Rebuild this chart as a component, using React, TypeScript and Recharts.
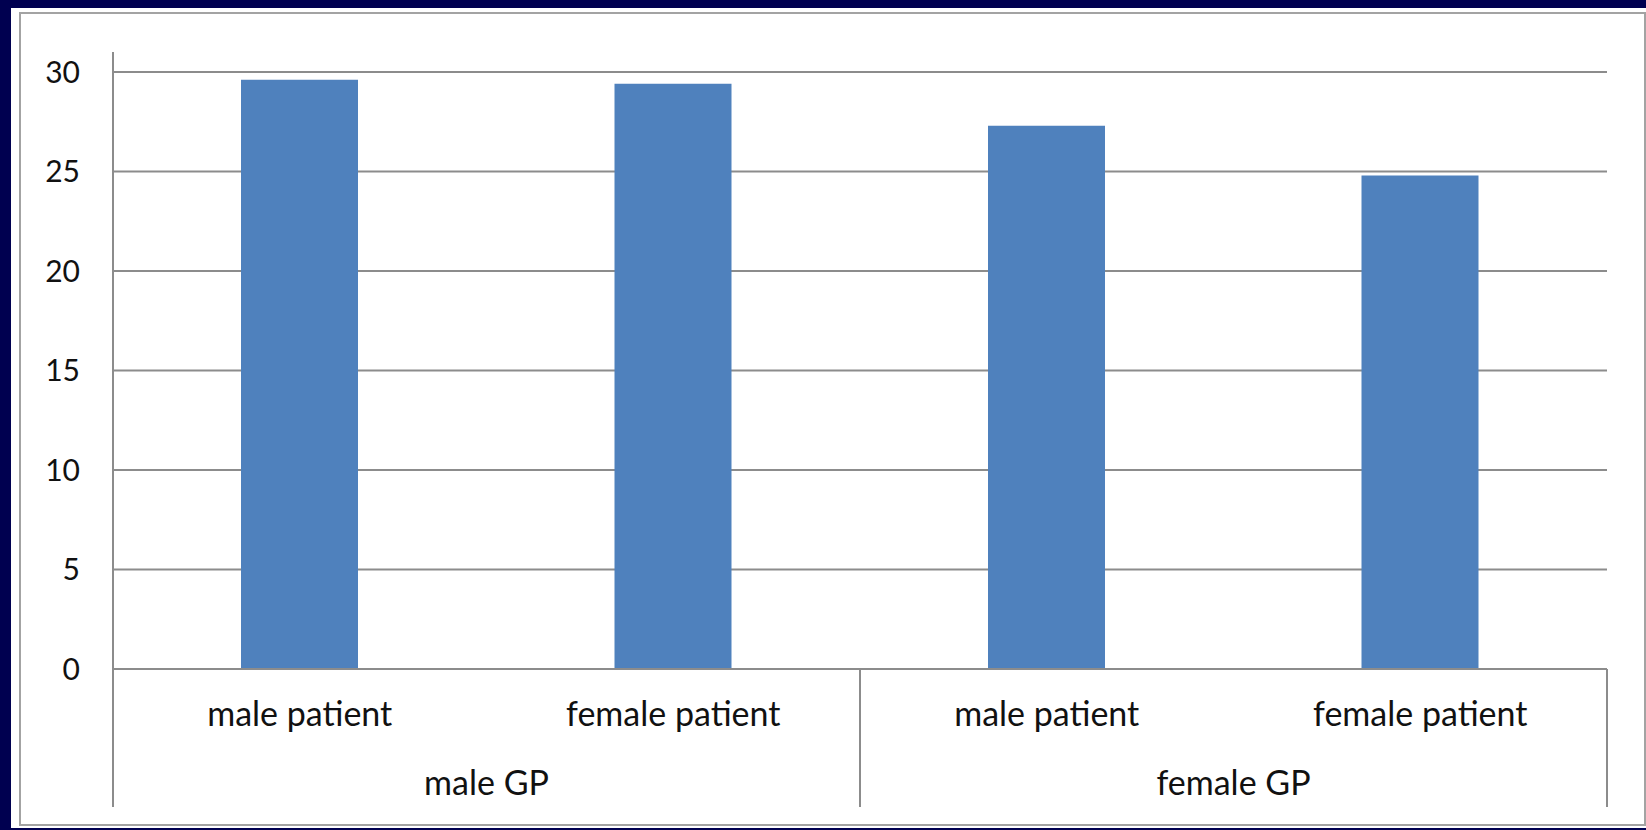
import React from "react";
import { Bar, BarChart, CartesianGrid, XAxis, YAxis } from "recharts";

const patients = ["male patient", "female patient", "male patient", "female patient"];
const gps = ["male GP", "male GP", "female GP", "female GP"];
const scores = [29.6, 29.4, 27.3, 24.8];
const yTicks = [0, 5, 10, 15, 20, 25, 30];

const data = patients.map((patient, i) => ({ patient, gp: gps[i], score: scores[i] }));

const AXIS_GREY = "#8c8c8c";
const FONT = "Lato, 'Open Sans', sans-serif";

// inner row: patient label plus the group separators that run down through both rows
function PatientTick(props: any) {
  const { x, y, payload, index } = props;
  const half = payload?.offset ?? 0;
  const startsGroup = index === 0 || gps[index] !== gps[index - 1];
  const isLast = index === data.length - 1;
  return (
    <g>
      {startsGroup && (
        <line x1={x - half} x2={x - half} y1={y} y2={y + 138} stroke={AXIS_GREY} strokeWidth={2} />
      )}
      {isLast && (
        <line x1={x + half} x2={x + half} y1={y} y2={y + 138} stroke={AXIS_GREY} strokeWidth={2} />
      )}
      <text x={x} y={y} dy={57} textAnchor="middle" fontSize={34} fill="#111" fontFamily={FONT}>
        {payload.value}
      </text>
    </g>
  );
}

function GroupTick(props: any) {
  const { x, y, payload } = props;
  return (
    <text x={x} y={y} dy={46} textAnchor="middle" fontSize={34} fill="#111" fontFamily={FONT}>
      {payload.value}
    </text>
  );
}

export default function App() {
  return (
    <div style={{ position: "relative", width: 1646, height: 830, background: "#000050", fontFamily: FONT }}>
      <style>{`body{margin:0}`}</style>
      <div style={{ position: "absolute", left: 11, top: 8, right: 0, bottom: 2, background: "#fff" }} />
      <div
        style={{
          position: "absolute",
          left: 19,
          top: 12,
          width: 1627,
          height: 814,
          border: "2px solid #a3a3a3",
          boxSizing: "border-box",
        }}
      />
      <div style={{ position: "absolute", left: 0, top: 0 }}>
        <BarChart width={1646} height={830} data={data} margin={{ top: 52, right: 39, left: 53, bottom: 23 }}>
          <CartesianGrid vertical={false} horizontalValues={yTicks} stroke={AXIS_GREY} strokeWidth={2} />
          <XAxis
            dataKey="patient"
            height={80}
            tickSize={0}
            tickMargin={0}
            interval={0}
            axisLine={{ stroke: AXIS_GREY, strokeWidth: 2 }}
            tickLine={false}
            tick={<PatientTick />}
          />
          <XAxis
            xAxisId="gp"
            dataKey="gp"
            allowDuplicatedCategory={false}
            height={58}
            tickSize={0}
            tickMargin={0}
            interval={0}
            axisLine={false}
            tickLine={false}
            tick={<GroupTick />}
          />
          <YAxis
            domain={[0, 31]}
            ticks={yTicks}
            width={60}
            tickSize={0}
            tickMargin={33}
            tickLine={false}
            axisLine={{ stroke: AXIS_GREY, strokeWidth: 2 }}
            tick={{ fontSize: 30, fill: "#111", fontFamily: FONT }}
          />
          <Bar dataKey="score" fill="#4f81bd" barSize={117} isAnimationActive={false} />
        </BarChart>
      </div>
    </div>
  );
}
